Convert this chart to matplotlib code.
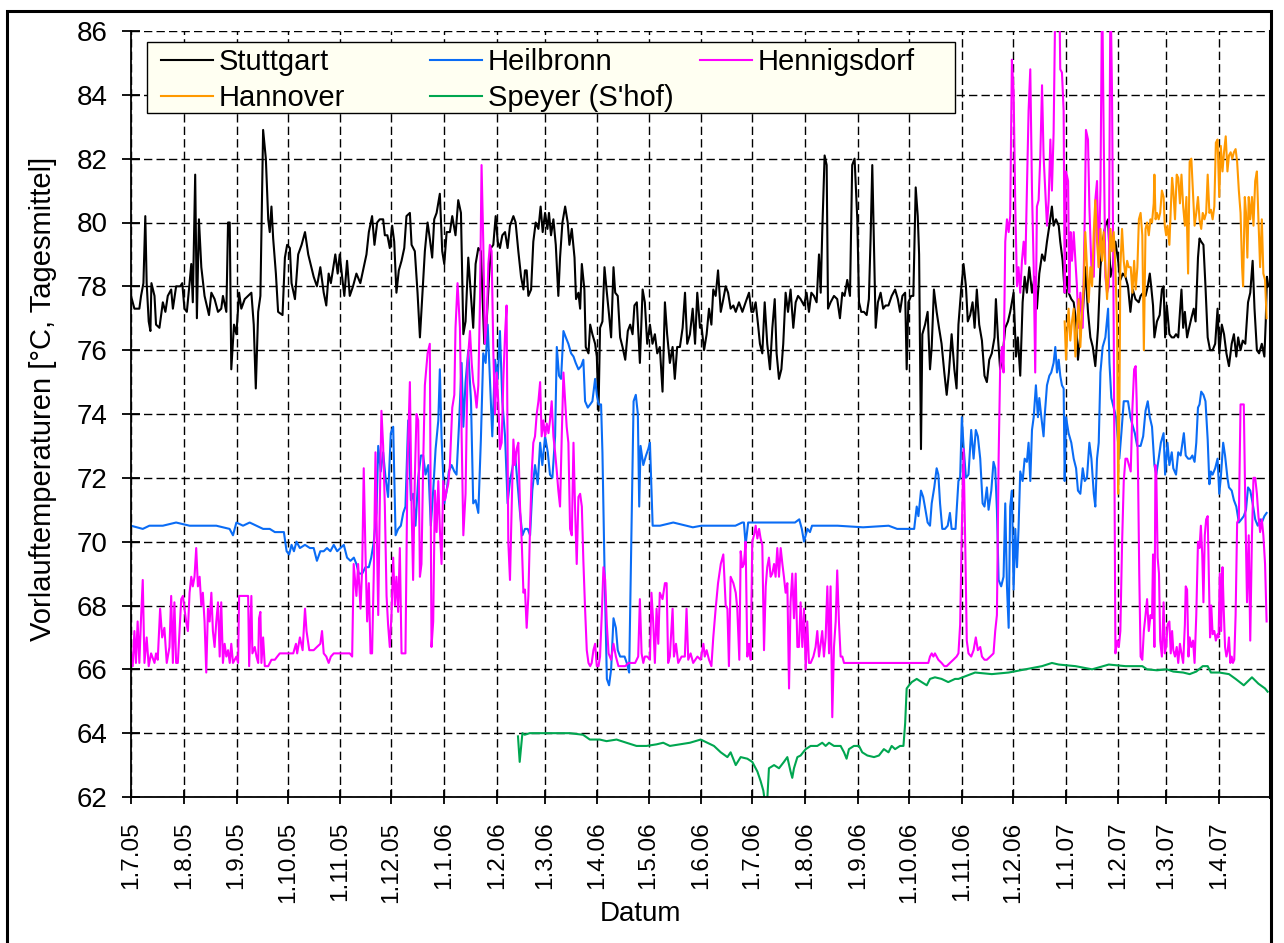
import numpy as np
import pandas as pd
import matplotlib
matplotlib.use("Agg")
import matplotlib.pyplot as plt
from matplotlib.patches import Rectangle
from matplotlib.lines import Line2D

plt.rcParams['font.family'] = ['Liberation Sans', 'DejaVu Sans']

start = pd.Timestamp("2005-07-01")
ende = pd.Timestamp("2007-05-01")

# Tage ab 1.7.05 und Tagesmittel der Vorlauftemperatur
stuttgart_tag = [0, 2.0, 4.9, 5.9, 7.3, 8.4, 9.2, 10.4, 11.4, 12.0, 13.8, 14.7, 16.7, 18.7, 20.2, 21.6, 23.6, 24.6, 26.5, 28.9,
                 30.1, 31.4, 32.8, 34.4, 35.4, 36.3, 37.7, 38.7, 39.9, 41.3, 43.2, 45.8, 47.2, 49.1, 51.1, 53.0, 54.0, 56.0, 57.0, 58.0,
                 58.9, 60.5, 61.9, 63.5, 64.8, 66.8, 70.7, 72.1, 73.3, 74.7, 76.0, 77.6, 79.2, 80.6, 81.5, 82.5, 83.5, 85.1, 86.4, 89.0,
                 90.4, 91.7, 93.3, 94.3, 96.3, 98.2, 100.2, 102.2, 104.1,
                 107.3, 109.2, 111.2, 113.2, 114.7, 116.1, 117.4, 119.1, 120.0, 121.4, 122.6, 124.0, 125.3, 126.9, 128.5, 130.4, 132.4,
                 134.7, 136.7, 138.3, 139.7, 141.6, 143.0, 144.6,
                 146.1, 148.1, 149.1, 150.6, 152.0, 153.4, 154.6, 155.9, 157.3, 158.9, 160.5, 161.8, 163.8, 164.8, 166.7, 168.3, 169.7,
                 171.0, 172.6, 174.2, 175.5, 176.9, 178.1, 179.5, 181.4, 182.8, 184.0, 185.4, 187.3, 188.7, 190.6, 192.2, 193.8, 195.2,
                 196.5, 198.1, 199.7, 201.0, 202.4, 204.0, 205.5, 207.5, 208.9, 210.3, 211.4, 212.8, 214.2, 215.4, 216.7, 218.1, 219.7,
                 221.2, 222.6, 224.6, 225.9, 227.5, 229.1, 230.5, 231.4, 232.4, 233.4, 235.0, 236.3, 237.7, 239.3, 240.6, 241.8, 243.2,
                 244.6, 245.5, 246.7, 248.1, 249.5, 251.0, 252.0, 253.4, 255.0, 256.5, 257.5, 258.9, 260.5, 261.4, 262.8, 263.8, 264.8,
                 266.3, 267.1, 268.7, 269.7, 271.0, 272.6, 273.6, 274.6, 275.5, 276.9, 278.1, 279.5, 280.8, 282.0, 283.4, 284.4, 285.9,
                 287.3, 288.7, 290.3, 291.8, 293.2, 294.6, 295.7, 297.1,
                 298.9, 300.5, 301.8, 303.2, 304.8, 306.3, 307.7, 309.1, 310.6, 312.2, 313.6, 314.9, 316.5, 318.1, 319.4, 320.8, 322.4,
                 324.0, 325.4, 326.7, 328.3, 329.9, 331.3, 332.6, 334.2,
                 335.0, 336.6, 338.1, 339.5, 340.9, 342.0, 343.4, 344.8, 346.4, 347.9, 349.3, 350.7, 352.2, 353.8, 355.2, 357.1, 359.1,
                 361.0, 363.0, 364.4, 365.5, 366.9, 368.3, 369.4, 370.8, 372.2, 373.7, 375.3, 376.7, 378.1, 379.2, 380.6, 382.0, 383.1,
                 384.5, 385.9, 387.4, 389.0, 390.4, 391.8, 393.3, 395.3, 396.8, 398.2, 399.6, 401.1, 402.7, 404.1, 405.1, 406.0, 407.4,
                 408.6, 409.4, 410.9, 412.9, 414.8, 416.4, 417.8, 419.1, 420.7, 422.3, 423.6, 425.0, 426.6, 427.6, 428.9, 430.5, 432.1,
                 433.4, 434.4, 435.4, 436.4, 437.4, 438.7, 440.3, 441.8, 443.2,
                 444.9, 446.8, 448.8, 450.4, 451.7, 453.1, 454.7, 455.6, 456.6, 458.2, 459.5, 460.9, 462.1, 462.9, 464.0, 464.8, 466.4,
                 467.9, 469.3, 470.3, 471.6, 473.2, 474.6, 476.1, 477.7, 479.1, 480.4, 482.0, 483.6, 484.9,
                 486.0, 487.6, 489.0, 490.4, 491.5, 492.9, 494.3, 495.5, 496.8, 498.2, 499.8, 501.3, 502.7, 504.1, 505.6, 507.2, 508.0,
                 509.2, 510.5, 511.9, 513.5, 515.1, 516.4, 518.4, 519.8, 520.9, 522.3, 523.7, 524.9, 526.2, 527.6, 529.2, 530.7, 532.1,
                 533.5, 535.1, 536.6, 538.0, 539.4, 540.9, 541.9, 543.3, 544.9, 545.8, 547.2, 548.4, 549.8, 550.7, 552.3, 553.7, 555.1,
                 556.2, 557.6, 559.0, 560.5, 562.1, 563.5, 564.9, 566.4, 568.0, 569.4, 570.7, 572.3, 573.9, 575.3, 576.6, 578.2, 579.8,
                 581.1, 582.5, 584.1, 585.6, 587.0, 588.4, 590.0, 591.9,
                 593.0, 594.5, 595.9, 597.2, 598.4, 599.2, 600.3, 601.1, 602.6, 604.2, 605.5, 606.5, 607.4, 608.4, 609.9, 611.3, 612.6,
                 613.8, 615.1, 616.1, 617.0, 618.0, 619.0, 620.3, 621.5, 622.8, 624.2, 625.3, 626.7, 627.6, 628.6, 629.9, 631.1, 632.4,
                 633.8, 635.3, 636.8, 638.2, 639.2, 640.7, 642.0, 643.4, 644.9, 646.5, 647.8, 649.2, 650.3, 651.7, 653.0, 654.5, 656.1,
                 657.4, 658.8, 659.9, 661.3, 662.6, 664.2, 665.7, 666.5, 667.2, 668.0]
stuttgart_wert = [77.7, 77.3, 77.3, 77.7, 78.1, 80.2, 78.1, 76.9, 76.6, 78.1, 77.7, 76.8, 76.7, 77.5, 77.2, 77.7, 77.9, 77.3, 78.0, 78.0,
                  78.1, 77.3, 77.2, 78.1, 78.7, 77.5, 81.5, 77.0, 80.1, 78.6, 77.7, 77.1, 77.8, 77.6, 77.2, 77.3, 77.7, 77.2, 80.0, 80.0,
                  75.4, 76.8, 76.5, 77.8, 77.3, 77.6, 77.8, 76.8, 74.8, 77.2, 77.7, 82.9, 82.0, 80.1, 79.7, 80.5, 79.5, 78.4, 77.2, 77.1,
                  78.9, 79.3, 79.2, 78.1, 77.6, 79.0, 79.3, 79.7, 79.0,
                  78.3, 78.0, 78.6, 77.8, 77.4, 78.4, 78.1, 78.7, 79.0, 78.4, 79.0, 78.3, 77.7, 78.8, 77.7, 78.0, 78.4,
                  78.1, 78.6, 79.0, 79.7, 80.2, 79.3, 80.0,
                  80.1, 80.1, 79.6, 79.6, 79.2, 79.9, 79.4, 77.8, 78.5, 78.8, 79.2, 80.2, 80.3, 79.3, 79.1, 77.8, 76.4,
                  77.6, 79.1, 80.0, 79.5, 78.9, 80.1, 80.3, 80.9, 79.1, 78.7, 79.7, 79.7, 80.2, 79.6, 80.7, 80.3, 76.5,
                  76.9, 78.9, 77.7, 76.7, 78.7, 79.2, 79.1, 76.2, 76.9, 78.3, 79.2, 79.3, 80.2, 79.4, 79.2, 79.6, 79.7,
                  79.2, 79.9, 80.2, 80.0, 79.1, 78.3, 77.9, 78.5, 78.5, 77.7, 77.9, 79.4, 80.0, 79.8, 80.5, 79.7, 80.3,
                  79.8, 80.3, 79.6, 80.1, 79.3, 77.7, 78.9, 80.0, 80.5, 80.0, 79.3, 79.8, 78.9, 77.6, 77.8, 77.3, 78.7,
                  77.9, 76.1, 75.9, 76.8, 76.5, 76.2, 75.8, 74.1, 76.7, 76.9, 78.6, 77.8, 77.1, 76.4, 78.6, 77.8, 77.7,
                  76.4, 76.1, 75.7, 76.6, 76.8, 76.5, 77.4, 77.5,
                  75.6, 77.9, 77.5, 76.2, 76.8, 76.2, 76.5, 75.9, 76.1, 74.7, 77.5, 76.5, 75.6, 76.1, 75.1, 76.1, 76.1,
                  76.7, 77.8, 76.2, 76.5, 77.3, 76.2, 77.8, 76.7,
                  76.8, 76.0, 76.5, 77.3, 76.8, 77.9, 77.7, 78.5, 77.2, 77.6, 78.0, 77.8, 77.3, 77.4, 77.2, 77.5, 77.2,
                  77.5, 77.8, 77.2, 77.2, 77.5, 76.8, 76.2, 75.9, 77.5, 76.2, 75.4, 76.7, 77.6, 75.9, 75.1, 75.4, 76.2,
                  77.8, 77.2, 77.9, 76.7, 77.5, 77.7, 77.6, 77.4, 77.8, 77.2, 77.8, 77.7, 77.5, 79.0, 77.8, 79.7, 82.1,
                  81.8, 77.3, 77.5, 77.7, 77.6, 77.0, 77.8, 77.7, 78.2, 77.7, 81.8, 82.0, 80.1, 77.5, 77.2, 77.2, 77.1,
                  77.6, 79.5, 81.8, 79.3, 76.7, 77.5, 77.8, 77.3, 77.4,
                  77.4, 77.7, 77.9, 77.6, 77.2, 77.7, 77.8, 75.4, 77.5, 77.7, 77.7, 81.1, 80.2, 79.0, 72.9, 76.5, 76.8,
                  77.2, 75.4, 76.1, 77.9, 77.2, 76.7, 76.2, 75.3, 74.6, 75.3, 76.5, 75.4, 74.8,
                  76.8, 77.9, 78.7, 78.0, 76.9, 77.1, 77.5, 76.7, 77.9, 76.8, 76.3, 75.2, 75.0, 75.7, 75.9, 76.4, 77.6,
                  76.4, 75.4, 75.8, 76.7, 76.9, 77.2, 77.8, 75.8, 76.4, 75.2, 77.5, 78.3, 77.8, 78.6, 77.8, 78.3, 77.3,
                  78.4, 79.0, 78.8, 79.4, 79.9, 80.5, 79.9, 80.1, 79.9, 79.4, 78.8, 77.8, 78.3, 77.8, 77.6, 77.5, 76.9,
                  75.7, 76.5, 77.1, 78.6, 77.2, 76.4, 76.1, 75.5, 76.7, 78.6, 79.4, 79.9, 80.1, 78.3, 78.6, 79.4, 78.8,
                  78.2, 78.4, 78.3, 78.0, 77.2, 77.9, 77.6, 77.5,
                  77.7, 77.8, 77.7, 78.0, 78.4, 78.0, 77.4, 76.4, 76.9, 77.1, 77.9, 78.0, 76.4, 77.4, 76.5, 76.4, 76.4,
                  76.5, 76.4, 77.2, 77.9, 76.7, 77.2, 76.4, 76.7, 77.0, 77.3, 76.9, 78.9, 79.5, 79.4, 79.3, 78.0, 76.4,
                  76.0, 76.0, 76.2, 77.3, 75.9, 76.8, 76.5, 75.9, 75.5, 76.2, 76.5, 75.8, 76.4, 76.0, 76.3, 76.2, 77.5,
                  77.8, 78.8, 77.3, 76.0, 75.9, 76.2, 75.8, 76.9, 78.3, 78.0]

heilbronn_tag = [0, 6.9, 10.8, 18.7, 26.5, 34.4, 42.2, 50.1, 57.9, 59.9, 61.9, 65.8, 69.7, 73.7, 77.6, 81.5, 84.5, 87.4, 89.8, 91.4,
                 92.9, 94.3, 95.7, 97.2, 99.2, 102.2, 105.1,
                 107.3, 109.2, 111.2, 113.2, 115.1, 117.1, 119.1, 121.1, 123.0, 125.0, 126.9, 128.9, 130.9, 132.4, 133.8, 135.8, 137.7,
                 139.7, 141.1, 142.6, 144.2,
                 145.2, 146.7, 148.1, 149.5, 151.0, 152.6, 154.0, 155.4, 156.9, 158.5, 159.9, 161.2, 162.8, 164.4, 165.7, 167.1, 168.7,
                 170.3, 171.6, 173.0, 174.6, 176.1, 177.5, 178.9, 180.5, 181.4, 182.4, 184.0, 185.4, 186.7, 188.3, 189.9, 191.2, 192.6,
                 194.2, 195.2, 196.5, 198.1, 199.7, 201.0, 202.4, 204.0, 205.5, 206.9, 208.3, 209.5, 210.8, 212.2, 213.8, 215.4, 216.7,
                 218.1, 219.7, 221.2, 222.6, 224.0, 225.5, 227.1, 228.5, 229.9, 231.4, 233.0, 234.4, 235.7, 237.3, 238.9, 240.3, 241.6,
                 243.2, 244.8, 246.1, 247.5, 249.1, 250.1, 251.4, 252.6, 254.0, 255.4, 256.9, 258.5, 259.9, 261.2, 262.8, 264.4, 265.7,
                 266.7, 268.3, 269.7, 271.0, 272.6, 273.6, 274.6, 276.1, 276.9, 278.1, 279.5, 280.8, 282.0, 283.4, 284.8, 285.9, 287.3,
                 288.7, 289.9, 291.2, 292.6, 293.8, 295.2, 296.5, 297.7,
                 298.5, 299.3, 300.9, 302.5, 303.8, 304.8, 306.4, 310.7, 318.5, 326.3, 330.0,
                 335, 345, 355, 359, 360, 361, 362.5, 370, 380, 390, 392.5, 394, 395.3, 396.3, 397.3, 398.8, 400, 415, 430, 445,
                 450, 457, 458.6, 460, 461.5, 462.5, 464.0, 465.3, 466.3, 467.9, 469.3, 470.3, 471.8, 473.2, 474.2, 475.2, 476.5, 478.1,
                 479.7, 481.0, 482.0, 483.0, 484.3,
                 486.0, 487.0, 488.0, 489.0, 490.4, 491.9, 493.5, 494.9, 496.2, 497.4, 498.8, 500.2, 501.3, 502.7, 503.7, 505.3, 506.6,
                 507.6, 508.6, 509.6, 511.1, 512.5, 513.5, 514.5, 515.5, 516.4, 517.4, 518.4, 519.4, 520.4, 521.3, 522.3, 523.7, 524.9,
                 526.2, 527.2, 528.2, 529.2, 530.2, 531.5, 532.7, 533.5, 534.7, 536.0, 536.6, 538.0, 539.4, 540.5, 541.9, 542.9, 543.9,
                 544.9, 545.8, 546.8, 547.8, 548.4, 549.2, 550.7, 552.3, 553.7, 555.1, 556.2, 557.6, 559.0, 560.2, 561.5, 562.9, 564.1,
                 565.5, 566.4, 567.4, 568.4, 569.4, 570.7, 572.3, 573.9, 574.7, 575.8, 577.2, 578.6, 579.8, 580.5, 581.7, 583.1, 584.5,
                 585.6, 587.0, 588.0, 589.6, 591.0,
                 593.0, 594.5, 595.9, 597.2, 598.4, 599.7, 601.1, 602.2, 603.6, 604.9, 606.5, 607.4, 608.8, 609.9, 611.3, 612.2, 613.8,
                 615.1, 616.5, 617.6, 618.4, 619.5, 620.9, 622.2, 623.4, 624.7, 625.7, 626.7, 627.6, 628.6, 629.9, 631.1, 632.4, 633.4,
                 634.3, 635.3, 636.8, 638.2, 639.2, 640.1, 641.5, 642.6, 644.0, 644.9, 646.5, 647.8, 649.2, 650.7, 652.2, 653.6, 654.9,
                 656.1, 657.4, 658.8, 660.3, 661.8, 663.2, 664.2, 665.7, 667.0]
heilbronn_wert = [70.5, 70.4, 70.5, 70.5, 70.6, 70.5, 70.5, 70.5, 70.4, 70.2, 70.6, 70.5, 70.6, 70.5, 70.4, 70.4, 70.3, 70.3, 70.3, 69.7,
                  69.6, 69.9, 69.7, 70.0, 69.8, 69.9, 69.8,
                  69.8, 69.4, 69.7, 69.7, 69.8, 69.7, 69.9, 69.7, 69.8, 69.9, 69.5, 69.4, 69.5, 69.3, 69.0, 69.0, 69.2,
                  69.2, 69.5, 70.0, 70.9,
                  73.0, 72.2, 72.8, 72.0, 71.4, 73.4, 73.6, 70.2, 70.4, 70.5, 70.9, 71.1, 73.8, 71.3, 71.5, 70.5, 72.0,
                  72.7, 72.7, 72.1, 72.4, 70.5, 71.6, 72.9, 73.8, 75.4, 73.3, 71.2, 71.6, 72.2, 72.4, 72.2, 72.1, 73.6,
                  75.6, 73.6, 75.0, 76.0, 74.4, 71.2, 71.3, 70.9, 73.2, 75.9, 75.6, 76.8, 75.1, 73.3, 75.7, 75.1, 76.6,
                  74.4, 73.3, 71.2, 71.9, 72.3, 72.8, 71.8, 70.9, 70.2, 70.4, 70.4, 70.2, 71.6, 72.4, 71.8, 73.1, 72.4,
                  73.3, 72.8, 72.1, 72.0, 73.3, 76.1, 75.2, 75.1, 76.6, 76.4, 76.2, 75.9, 75.8, 75.6, 75.4, 75.5, 75.7,
                  74.4, 74.2, 74.3, 74.4, 75.1, 74.6, 74.3, 74.3, 72.8, 69.2, 65.7, 65.5, 66.0, 67.6, 67.3, 66.6, 66.4,
                  66.4, 66.4, 66.2, 65.9, 69.9, 74.4, 74.6, 74.0,
                  71.1, 73.0, 72.4, 72.7, 72.9, 73.1, 70.5, 70.5, 70.6, 70.5, 70.45,
                  70.5, 70.5, 70.5, 70.6, 70.6, 69.9, 70.6, 70.6, 70.6, 70.6, 70.7, 70.4, 70.0, 70.2, 70.4, 70.3, 70.5, 70.5, 70.45, 70.5,
                  70.4, 70.4, 70.4, 70.4, 71.1, 70.8, 71.6, 71.4, 71.1, 70.6, 70.5, 71.2, 71.7, 72.3, 72.1, 71.2, 70.4, 70.4,
                  70.5, 70.9, 70.4, 70.4, 70.4,
                  71.9, 72.0, 73.9, 73.0, 72.0, 72.1, 73.5, 72.6, 73.5, 73.3, 72.6, 71.2, 71.1, 71.7, 71.0, 71.6, 72.5,
                  72.3, 71.0, 68.8, 68.6, 68.9, 71.2, 68.6, 67.3, 71.1, 71.6, 68.5, 70.4, 69.2, 70.4, 72.2, 71.9, 72.6,
                  72.5, 73.1, 71.9, 73.5, 73.9, 74.9, 73.9, 74.5, 73.9, 73.3, 73.9, 74.9, 75.2, 75.3, 75.6, 76.1, 75.3,
                  75.7, 75.2, 74.9, 74.8, 71.9, 73.9, 73.4, 73.1, 72.6, 72.3, 71.6, 71.5, 72.3, 71.9, 72.0, 73.1, 72.6,
                  71.5, 71.1, 72.6, 73.1, 75.3, 76.1, 76.4, 77.3, 75.6, 74.5, 74.2, 73.9, 73.1, 72.6, 73.4, 74.4, 74.4,
                  74.4, 73.9, 73.7, 73.4, 73.0,
                  73.0, 73.3, 74.1, 74.4, 73.9, 73.6, 72.4, 72.1, 72.6, 73.1, 73.4, 72.1, 73.1, 72.4, 72.8, 72.3, 72.1,
                  72.8, 72.7, 73.1, 73.4, 72.7, 72.6, 72.6, 72.7, 72.5, 73.1, 74.2, 74.3, 74.7, 74.6, 74.4, 73.2, 71.8,
                  72.2, 72.1, 72.3, 72.6, 71.5, 72.0, 73.1, 72.7, 72.0, 71.7, 71.6, 71.3, 71.1, 70.6, 70.7, 70.8, 71.0,
                  71.7, 71.6, 71.2, 70.7, 70.5, 70.7, 70.6, 70.8, 70.9]

hennigsdorf_tag = [0, 1.0, 2.0, 2.9, 3.9, 4.9, 5.9, 6.9, 7.9, 9.2, 10.4, 11.8, 13.8, 14.7, 15.7, 17.1, 18.3, 19.6, 21.0, 22.6,
                   23.6, 24.6, 25.5, 26.5, 27.5, 28.5, 29.5, 30.5, 31.4, 32.4, 33.4, 34.4, 35.4, 36.3, 37.3, 38.3, 39.3, 40.3, 41.3, 42.2,
                   43.2, 44.2, 45.2, 46.2, 47.2, 48.1, 49.1, 50.1, 51.1, 52.1, 53.0, 54.0, 55.0, 56.0, 57.0, 58.0, 58.9, 59.9, 61.9, 62.9,
                   63.5, 64.8, 67.8, 68.8, 69.4, 70.7, 71.3, 72.7, 73.7, 74.7, 75.2, 76.0, 76.6, 77.6, 78.6, 80.6, 82.5, 84.5, 85.9, 87.4,
                   89.4, 91.4, 93.3, 95.3, 96.9, 97.6, 99.2, 100.8, 102.2, 103.1, 104.7,
                   107.3, 109.2, 111.2, 112.2, 113.2, 114.7, 116.1, 117.4, 119.1, 121.0, 123.0, 125.0, 126.9, 128.5, 129.9, 130.8, 132.4,
                   133.4, 134.8, 135.8, 136.7, 137.7, 138.7, 139.7, 140.7, 141.6, 142.6, 143.6,
                   145.2, 146.1, 147.1, 148.1, 149.1, 150.1, 151.0, 152.0, 153.0, 154.0, 155.0, 155.9, 156.9, 157.9, 158.9, 160.5, 161.2,
                   162.4, 163.8, 164.8, 165.7, 166.7, 167.7, 168.7, 169.7, 170.6, 171.6, 172.6, 174.2, 175.5, 176.5, 177.5, 178.5, 179.5,
                   180.5, 181.4, 182.4, 183.4, 184.4, 185.4, 186.3, 187.3, 188.7, 189.9, 190.6, 191.8, 193.2, 194.2, 195.2, 196.5, 197.7,
                   199.1, 200.1, 201.0, 202.0, 203.0, 204.0, 205.0, 205.9, 206.9, 207.9, 208.9, 209.9, 210.8, 211.8, 212.8, 213.8, 214.8,
                   215.7, 216.7, 217.7, 218.7, 219.7, 220.6, 221.6, 222.6, 223.6, 224.6, 225.5, 226.5, 227.5, 228.5, 229.5, 230.5, 231.4,
                   232.4, 233.4, 234.4, 235.4, 236.3, 237.3, 238.3, 239.3, 240.3, 241.2, 242.2, 243.2, 244.2, 245.2, 246.1, 247.1, 248.1,
                   249.1, 250.1, 251.0, 252.0, 253.0, 254.0, 255.0, 255.9, 256.9, 257.9, 258.9, 259.9, 260.8, 261.8, 262.8, 263.8, 264.8,
                   265.7, 266.7, 267.7, 268.7, 269.7, 270.6, 271.6, 272.6, 273.6, 274.6, 275.5, 276.5, 277.5, 278.5, 279.5, 280.5, 282.0,
                   283.4, 284.8, 286.3, 288.3, 290.3, 292.2, 294.2, 296.1,
                   297.9, 298.9, 299.9, 300.9, 301.8, 303.2, 304.8, 305.7, 306.7, 307.7, 308.7, 309.7, 310.6, 312.2, 313.6, 314.6, 315.5,
                   316.5, 318.1, 318.9, 320.1, 321.4, 323.4, 325.3, 326.3, 327.3, 328.7, 330.2,
                   332.7, 334.6, 336.2, 337.0, 338.1, 339.5, 340.9, 342.0, 343.4, 344.8, 346.4, 347.9, 349.3, 350.3, 351.2, 352.2, 353.8,
                   355.2, 356.1, 357.3, 358.1, 359.1, 360.0, 361.0, 362.0, 363.0, 364.0, 364.9, 365.9, 366.9, 367.9, 368.9, 369.8, 370.8,
                   371.8, 372.8, 373.7, 374.7, 375.7, 376.7, 377.7, 378.6, 379.6, 380.6, 381.6, 382.6, 383.5, 384.5, 385.5, 386.5, 387.4,
                   388.4, 389.4, 390.4, 391.4, 392.3, 393.3, 394.3, 395.3, 396.3, 397.2, 398.2, 399.2, 400.8, 402.1, 403.1, 404.1, 405.1,
                   406.0, 407.0, 408.0, 409.0, 410.0, 410.9, 411.9, 412.9, 413.9, 414.8, 415.8, 416.8, 417.8, 418.8, 428.5, 438.3, 448.1,
                   457.0, 468.3, 469.3, 470.3, 471.3, 472.2, 473.2, 474.2, 476.1, 477.7, 479.1, 481.0, 483.0, 484.9,
                   486.0, 487.0, 488.0, 489.0, 490.0, 490.9, 491.9, 493.5, 494.9, 496.2, 497.4, 498.8, 499.8, 501.3, 502.7, 504.7, 506.6,
                   507.6, 508.6, 509.6, 510.5, 511.5, 512.5, 513.5, 514.5, 515.5, 516.4, 517.4, 518.4, 519.4, 520.4, 521.3, 522.3, 523.3,
                   524.3, 525.3, 526.2, 527.2, 528.2, 529.2, 530.2, 531.1, 532.1, 533.1, 534.1, 535.1, 536.0, 537.0, 538.0, 539.0, 540.0,
                   540.9, 541.9, 542.9, 544.5, 545.3, 545.8, 546.8, 547.8, 548.4, 549.2, 550.4, 551.1, 551.9, 552.7, 553.7, 554.7, 555.6,
                   556.6, 557.6, 559.0, 560.2, 560.9, 562.1, 562.9, 564.1, 565.5, 566.4, 567.4, 568.4, 569.4, 570.4, 571.3, 572.3, 573.3,
                   574.3, 575.3, 576.2, 577.2, 578.2, 579.2, 580.2, 581.1, 582.1, 583.1, 584.1, 585.1,
                   587.2, 588.2, 589.2, 590.1, 590.7, 591.5, 592.2, 593.0, 594.0, 594.9, 595.9, 596.8, 597.8, 598.8, 599.7, 600.3, 601.1,
                   601.7, 602.2, 603.0, 603.8, 604.5, 605.5, 606.5, 607.2, 608.0, 608.8, 609.9, 610.7, 611.5, 612.2, 613.2, 614.2, 615.1,
                   616.1, 617.0, 618.0, 619.0, 619.5, 620.3, 621.1, 621.8, 622.8, 623.8, 624.7, 625.7, 626.7, 627.6, 628.4, 629.2, 629.9,
                   630.7, 631.5, 632.4, 633.0, 633.8, 634.5, 635.3, 636.3, 637.2, 638.2, 638.8, 639.5, 640.3, 641.1, 641.8, 642.6, 643.4,
                   644.2, 644.9, 645.7, 646.5, 647.2, 648.0, 648.8, 649.7, 650.7, 651.7, 652.6, 653.6, 654.5, 655.5, 656.5, 657.4, 658.4,
                   659.3, 660.3, 661.3, 662.2, 663.2, 664.2, 665.1, 666.1, 667.0]
hennigsdorf_wert = [66.5, 66.1, 67.2, 66.2, 67.5, 66.2, 67.6, 68.8, 66.2, 67.0, 66.1, 66.5, 66.2, 66.5, 66.3, 67.9, 67.0, 67.3, 66.2, 66.7,
                    68.3, 66.2, 68.1, 66.2, 66.2, 67.2, 68.2, 68.3, 67.9, 67.5, 67.2, 68.4, 68.9, 68.6, 68.9, 69.8, 68.6, 68.9, 68.0, 68.4,
                    67.5, 65.9, 67.9, 67.5, 68.4, 67.2, 66.7, 67.5, 68.1, 66.4, 68.1, 66.2, 66.8, 66.4, 66.6, 66.2, 66.8, 66.2, 66.4, 66.2,
                    68.3, 68.3, 68.3, 68.3, 66.1, 68.3, 66.5, 66.7, 66.4, 66.2, 67.6, 67.8, 66.2, 67.0, 66.1, 66.1, 66.3, 66.3, 66.4, 66.5,
                    66.5, 66.5, 66.5, 66.5, 66.8, 66.5, 67.0, 66.6, 67.9, 67.2, 66.6,
                    66.6, 66.7, 66.8, 67.2, 66.5, 66.4, 66.2, 66.4, 66.5, 66.5, 66.5, 66.5, 66.5, 66.5, 66.4, 69.3, 68.3,
                    69.3, 67.9, 69.2, 72.3, 69.7, 67.5, 68.7, 66.5, 66.5, 69.0, 72.8,
                    67.7, 71.1, 74.1, 73.0, 71.1, 68.3, 67.4, 66.7, 67.7, 69.5, 68.0, 68.9, 67.8, 69.8, 66.5, 66.5, 66.5,
                    72.4, 75.0, 71.1, 68.8, 72.0, 74.0, 73.8, 68.9, 69.3, 72.4, 74.9, 75.9, 76.2, 66.7, 67.5, 71.6, 70.3,
                    71.9, 70.4, 69.3, 71.9, 71.3, 71.6, 71.8, 72.4, 74.2, 74.6, 76.7, 78.1, 76.7, 73.3, 70.2, 71.5, 75.6,
                    76.6, 75.6, 75.0, 74.7, 74.2, 74.9, 77.6, 81.8, 79.4, 76.2, 76.9, 78.7, 79.3, 79.1, 76.0, 74.0, 75.3,
                    74.4, 72.9, 73.1, 75.1, 76.5, 77.4, 70.0, 68.8, 71.1, 73.2, 72.4, 72.9, 73.1, 71.1, 70.0, 68.4, 68.5,
                    67.3, 68.3, 70.5, 72.2, 73.1, 73.3, 74.0, 74.4, 75.0, 73.3, 73.8, 73.3, 73.7, 73.4, 73.8, 74.4, 73.3,
                    72.8, 72.2, 71.6, 71.1, 73.3, 75.3, 74.4, 73.6, 73.1, 70.4, 70.2, 73.1, 71.1, 69.3, 71.4, 71.5, 71.1,
                    69.4, 67.9, 66.6, 66.2, 66.1, 66.2, 66.6, 66.8, 66.1, 66.1, 66.4, 67.7, 69.2, 68.8, 67.4, 66.5, 66.3,
                    66.8, 66.4, 66.1, 66.1, 66.1, 66.2, 66.2, 66.2,
                    66.4, 68.2, 66.5, 66.2, 66.4, 66.4, 66.3, 68.4, 67.5, 66.2, 67.9, 66.8, 68.4, 68.2, 68.7, 68.7, 66.2,
                    66.4, 67.9, 66.4, 66.8, 66.2, 66.4, 66.4, 67.9, 66.3, 66.5, 66.2,
                    66.4, 66.3, 66.8, 66.4, 66.6, 66.3, 66.1, 67.0, 67.9, 68.7, 69.3, 69.6, 68.0, 67.9, 66.1, 68.9, 68.7,
                    68.4, 67.9, 66.3, 69.7, 69.2, 69.3, 70.0, 66.4, 66.8, 66.3, 70.0, 70.2, 70.5, 70.1, 70.4, 70.1, 69.9,
                    66.6, 68.6, 69.2, 69.5, 68.9, 69.0, 69.3, 68.9, 69.8, 68.9, 69.8, 69.3, 68.9, 68.4, 68.7, 65.4, 68.1,
                    69.0, 67.6, 69.0, 66.7, 66.7, 68.1, 66.7, 67.9, 66.0, 67.5, 66.2, 66.2, 66.4, 66.7, 67.2, 66.4, 66.8,
                    67.2, 66.4, 67.0, 68.6, 66.5, 68.6, 64.5, 66.7, 67.5, 69.1, 67.5, 66.4, 66.4, 66.2, 66.2, 66.2, 66.2,
                    66.2, 66.2, 66.4, 66.5, 66.4, 66.5, 66.4, 66.3, 66.2, 66.1, 66.1, 66.2, 66.3, 66.4,
                    66.5, 67.4, 70.4, 72.9, 69.9, 66.9, 66.5, 66.4, 66.6, 67.0, 66.6, 66.7, 66.4, 66.3, 66.3, 66.4, 66.5,
                    67.2, 67.7, 72.6, 75.4, 76.1, 75.3, 79.4, 80.1, 79.7, 80.2, 85.1, 84.1, 80.5, 78.0, 78.6, 77.8, 78.8,
                    79.4, 78.7, 81.0, 83.5, 84.8, 81.0, 78.6, 75.3, 80.5, 80.7, 82.1, 84.3, 82.1, 81.0, 79.9, 80.7, 82.6,
                    81.0, 82.8, 87.0, 87.5, 87.0, 84.8, 84.7, 83.5, 77.8, 81.6, 81.3, 77.8, 79.7, 78.8, 79.7, 78.8, 78.0,
                    76.7, 77.8, 76.7, 80.2, 82.9, 82.6, 80.5, 78.6, 78.3, 80.7, 81.3, 78.6, 81.0, 87.5, 82.8, 78.3, 77.8,
                    78.0, 87.5, 84.1, 76.7, 66.5, 66.9, 66.7, 67.2, 69.9, 71.9, 72.6, 72.6,
                    72.2, 74.2, 75.4, 75.5, 74.4, 72.1, 69.0, 66.4, 66.3, 67.2, 67.7, 68.2, 67.2, 67.7, 67.6, 69.6, 66.7,
                    72.4, 72.2, 69.5, 69.0, 66.9, 66.4, 68.1, 66.5, 66.7, 67.4, 67.5, 66.5, 67.2, 66.6, 66.4, 66.7, 66.2,
                    66.8, 66.5, 66.2, 67.4, 68.6, 68.5, 66.4, 67.0, 66.7, 66.9, 66.2, 67.7, 70.0, 69.8, 70.5, 69.6, 68.1,
                    70.2, 70.7, 70.8, 69.2, 67.0, 68.0, 67.1, 67.2, 66.9, 67.1, 67.0, 69.0, 67.2, 69.2, 67.9, 66.7, 66.4,
                    66.6, 67.0, 66.2, 66.4, 66.2, 66.3, 67.7, 70.6, 70.7, 74.3, 74.3, 74.3, 71.1, 68.1, 70.2, 66.9, 70.2,
                    72.0, 72.0, 71.5, 70.8, 70.3, 70.7, 70.2, 69.3, 67.5]

hannover_tag = [548.4, 549.2, 550.0, 550.7, 551.7, 552.7, 553.7, 554.7, 555.6, 556.6, 557.6, 558.6, 559.6, 560.5, 561.5, 562.5,
                563.5, 564.5, 565.5, 566.4, 567.4, 568.4, 569.4, 570.4, 571.3, 572.3, 573.3, 574.3, 575.3, 576.2, 577.2, 578.2,
                579.2, 579.8, 580.5, 581.1, 582.1, 583.1, 584.1, 585.1, 586.0,
                587.2, 588.2, 589.2, 590.1, 591.1, 592.0, 593.0, 594.0, 594.9, 595.9, 596.8, 597.8, 598.8, 599.7, 600.7, 601.1,
                601.8, 602.6, 603.6, 604.5, 605.5, 606.5, 607.2, 608.0, 608.8, 609.9, 610.7, 611.5, 612.2, 613.2, 614.2, 615.1,
                616.1, 617.0, 618.0, 619.0, 619.9, 620.9, 621.8, 622.8, 623.8, 624.7, 625.7, 626.7, 627.6, 628.6, 629.5, 630.5,
                631.5, 632.4, 633.4, 634.3, 635.3, 636.3, 637.2, 638.2, 639.2, 640.1, 641.1, 642.0, 643.0, 644.0, 644.9, 645.9,
                646.8, 647.8, 648.8, 649.7, 650.7, 651.7, 652.6, 653.2, 654.2, 654.9, 655.7, 656.5, 657.4, 658.4, 659.3, 660.3,
                661.3, 662.2, 663.2, 664.2, 665.1, 666.1, 667.0]
hannover_wert = [76.9, 75.7, 76.7, 77.3, 76.3, 76.9, 77.3, 75.8, 76.7, 77.6, 76.1, 77.2, 78.0, 79.7, 78.6, 77.5,
                 78.6, 78.0, 79.7, 80.7, 79.4, 78.6, 79.8, 78.8, 79.7, 78.6, 77.6, 78.6, 79.8, 79.1, 79.7, 78.6,
                 76.7, 71.5, 73.9, 78.6, 79.8, 78.8, 78.3, 78.8, 78.6,
                 78.6, 77.8, 78.8, 77.9, 78.6, 80.1, 80.3, 79.6, 76.0, 79.8, 80.0, 79.6, 80.1, 80.0, 80.6, 81.5,
                 80.1, 80.3, 80.1, 80.3, 81.0, 80.8, 79.9, 79.6, 79.9, 79.3, 80.4, 81.4, 81.0, 80.1, 81.5, 81.4,
                 80.6, 81.5, 80.5, 79.9, 80.8, 78.4, 81.9, 82.0, 80.9, 79.9, 80.3, 80.8, 80.1, 79.8, 80.3, 80.1,
                 80.3, 81.5, 80.3, 80.4, 80.1, 80.5, 82.5, 82.6, 80.8, 82.4, 81.6, 82.2, 82.7, 81.6, 82.1, 82.2,
                 82.0, 82.2, 82.3, 81.9, 81.0, 80.3, 78.6, 78.0, 80.8, 80.3, 78.9, 80.8, 80.1, 80.8, 79.9, 81.3,
                 81.6, 80.1, 78.6, 80.1, 78.4, 78.2, 77.0]

speyer_tag = [227.3, 228.3, 229.9, 231.2, 234.2, 242.0, 249.9, 257.7, 265.5, 269.5, 275.3, 279.3, 285.2, 291.0, 296.9, 302.8,
              308.7, 312.6, 316.5, 322.4, 328.3, 334.6, 338.5, 342.4, 346.4, 350.3, 352.2, 355.2, 358.1, 362.0, 364.9, 367.9,
              369.8, 371.4, 372.2, 373.7, 374.7, 377.7, 380.6, 383.5, 385.5, 387.4, 388.4, 389.4, 391.4, 393.3, 396.3, 399.2,
              403.1, 406.0, 408.0, 410.0, 412.9, 416.8, 418.8, 420.3, 421.7, 424.6, 427.6, 429.5, 432.5, 436.4, 439.3, 442.2,
              444.9, 446.8, 448.8, 451.7, 453.7, 454.7, 455.6, 457.0, 458.6, 461.5, 464.4, 467.4, 469.3, 472.2, 476.1, 480.0,
              484.0, 486.0, 495.8, 505.6, 515.5, 525.3, 535.1, 540.9, 544.9, 554.7, 564.5, 574.3, 584.1, 591.9,
              594.0, 596.8, 602.6, 608.4, 612.2, 618.0, 621.8, 625.7, 629.5, 632.4, 634.3, 639.2, 644.9, 648.8, 653.6, 658.4,
              662.2, 666.1, 667.6]
speyer_wert = [63.9, 63.1, 64.0, 63.95, 64.0, 64.0, 64.0, 64.0, 63.95, 63.8, 63.8, 63.75, 63.8, 63.7, 63.6, 63.6,
               63.65, 63.7, 63.6, 63.65, 63.7, 63.8, 63.7, 63.6, 63.4, 63.25, 63.4, 63.0, 63.25, 63.2, 63.1, 62.8,
               62.5, 62.2, 61.9, 61.9, 62.9, 63.0, 62.9, 63.1, 63.25, 62.8, 62.6, 62.9, 63.25, 63.3, 63.5, 63.6,
               63.6, 63.7, 63.6, 63.7, 63.6, 63.6, 63.4, 63.2, 63.5, 63.6, 63.6, 63.4, 63.3, 63.25, 63.3, 63.5,
               63.4, 63.6, 63.5, 63.6, 63.6, 64.3, 65.4, 65.5, 65.6, 65.7, 65.6, 65.5, 65.7, 65.75, 65.7, 65.6,
               65.7, 65.7, 65.9, 65.85, 65.9, 66.0, 66.1, 66.2, 66.15, 66.1, 66.0, 66.15, 66.1, 66.1,
               66.1, 66.0, 65.97, 66.0, 65.93, 65.9, 65.85, 65.93, 66.1, 66.1, 65.9, 65.9, 65.85, 65.7, 65.5, 65.75,
               65.55, 65.4, 65.3]

reihen = [
    ("Stuttgart", stuttgart_tag, stuttgart_wert, "#000000"),
    ("Heilbronn", heilbronn_tag, heilbronn_wert, "#0A6CF5"),
    ("Hennigsdorf", hennigsdorf_tag, hennigsdorf_wert, "#FF00FF"),
    ("Hannover", hannover_tag, hannover_wert, "#FF9900"),
    ("Speyer (S'hof)", speyer_tag, speyer_wert, "#00A650"),
]

monate = pd.date_range("2005-07-01", "2007-04-01", freq="MS")
monat_labels = ["1.%d.%s" % (d.month, d.strftime("%y")) for d in monate]

W, H = 1284, 943
fig = plt.figure(figsize=(W / 100, H / 100), dpi=100)
ax = fig.add_axes([131 / W, 1 - 797 / H, (1270 - 131) / W, (797 - 31) / H])

for name, tag, wert, farbe in reihen:
    x = start + pd.to_timedelta(np.array(tag), unit="D")
    ax.plot(x, wert, color=farbe, lw=1.5, label=name)

ax.set_xlim(start, ende)
ax.set_ylim(62, 86)
ax.set_yticks(np.arange(62, 87, 2))
ax.set_xticks(monate)
ax.set_xticklabels(monat_labels, rotation=90)

ax.set_axisbelow(True)
ax.grid(True, color="black", linestyle=(0, (6, 3)), linewidth=1.0)

ax.spines["top"].set_visible(False)
for s in ["left", "bottom"]:
    ax.spines[s].set_linewidth(1.3)
ax.spines["right"].set_linewidth(2.2)

ax.tick_params(axis="y", direction="inout", length=13, width=1.3, pad=10.5, labelsize=20)
ax.tick_params(axis="x", direction="inout", length=9.4, width=1.3, pad=13, labelsize=17.5)

ax.set_ylabel("Vorlauftemperaturen [°C, Tagesmittel]", fontsize=21)
ax.yaxis.set_label_coords(-0.065, 0.52)
ax.set_xlabel("Datum", fontsize=20)
ax.xaxis.set_label_coords(0.447, -0.136)

# Legende von Hand, wie im Excel-Diagramm
def px(x, y):
    return x / W, 1 - y / H

lx0, ly0 = px(147, 113)
fig.add_artist(Rectangle((lx0, ly0), (955 - 147) / W, (113 - 42) / H, transform=fig.transFigure,
                         facecolor="#FFFFF2", edgecolor="black", lw=1.0, zorder=3))
pos = {"Stuttgart": (161, 60), "Hannover": (161, 96), "Heilbronn": (430, 60),
       "Speyer (S'hof)": (430, 96), "Hennigsdorf": (700, 60)}
for name, tag, wert, farbe in reihen:
    x0, yy = pos[name]
    a, b = px(x0, yy)
    c, _ = px(x0 + 52, yy)
    fig.add_artist(Line2D([a, c], [b, b], transform=fig.transFigure, color=farbe, lw=1.5, zorder=4))
    tx, ty = px(x0 + 58, yy + 10.5)
    fig.text(tx, ty, name, fontsize=21, va="baseline", ha="left", zorder=5)

# Rahmen um das ganze Bild
fig.add_artist(Rectangle((7 / W, -0.01), (1271 - 7) / W, (H - 11) / H + 0.01, transform=fig.transFigure,
                         fill=False, edgecolor="black", lw=2.2, zorder=6))

fig.savefig("out.png", dpi=100, facecolor="white")
